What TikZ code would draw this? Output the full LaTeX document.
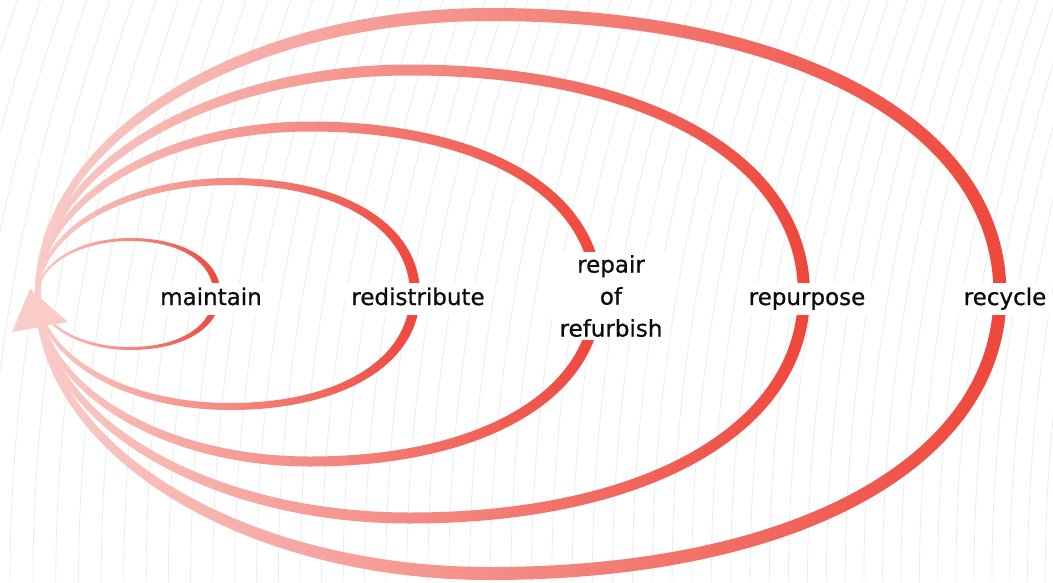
\documentclass[tikz,border=0pt]{standalone}
\usepackage{fontspec}
\setmainfont{DejaVu Sans}
\newfontfamily\labelfont{DejaVu Sans}[FakeBold=0.8]
\definecolor{loopL}{HTML}{F9CCC8}
\definecolor{loopR}{HTML}{EF463B}
\definecolor{bgline}{HTML}{ECECEC}
\definecolor{labeltext}{HTML}{0D0D0D}
\tikzset{
  looplabel/.style={fill=white, inner xsep=6pt, inner ysep=5pt, text=labeltext,
    font=\labelfont\fontsize{23}{32}\selectfont, text height=17pt, text depth=5pt},
  multilabel/.style={fill=white, inner xsep=8pt, inner ysep=3pt, text=labeltext,
    font=\labelfont\fontsize{23}{32}\selectfont, align=center},
  bandfill/.style={left color=loopL, right color=loopR, even odd rule},
  arrowtip/.style={fill=loopL},
  bgcurve/.style={draw=bgline, line width=0.8pt}
}
% #1 left x, #2 peak x, #3 right x, #4 half height, #5 width left, #6 width top, #7 width right
\newcommand\bandloop[7]{%
  \pgfmathsetmacro\lpOL{#1-#5/2}%
  \pgfmathsetmacro\lpIL{#1+#5/2}%
  \pgfmathsetmacro\lpOR{#3+#7/2}%
  \pgfmathsetmacro\lpIR{#3-#7/2}%
  \pgfmathsetmacro\lpOT{294-#4-#6/2}%
  \pgfmathsetmacro\lpIT{294-#4+#6/2}%
  \pgfmathsetmacro\lpOB{294+#4+#6/2}%
  \pgfmathsetmacro\lpIB{294+#4-#6/2}%
  \def\lpP{#2}%
  \shade[bandfill]
    (\lpOL,294) .. controls (\lpOL,{294-0.552*(294-\lpOT)}) and ({\lpP-0.552*(\lpP-\lpOL)},\lpOT) .. (\lpP,\lpOT)
    .. controls ({\lpP+0.6*(\lpOR-\lpP)},\lpOT) and (\lpOR,{294-0.6*(294-\lpOT)}) .. (\lpOR,294)
    .. controls (\lpOR,{294+0.6*(\lpOB-294)}) and ({\lpP+0.6*(\lpOR-\lpP)},\lpOB) .. (\lpP,\lpOB)
    .. controls ({\lpP-0.552*(\lpP-\lpOL)},\lpOB) and (\lpOL,{294+0.552*(\lpOB-294)}) .. (\lpOL,294) -- cycle
    (\lpIL,294) .. controls (\lpIL,{294+0.552*(\lpIB-294)}) and ({\lpP-0.552*(\lpP-\lpIL)},\lpIB) .. (\lpP,\lpIB)
    .. controls ({\lpP+0.6*(\lpIR-\lpP)},\lpIB) and (\lpIR,{294+0.6*(\lpIB-294)}) .. (\lpIR,294)
    .. controls (\lpIR,{294-0.6*(294-\lpIT)}) and ({\lpP+0.6*(\lpIR-\lpP)},\lpIT) .. (\lpP,\lpIT)
    .. controls ({\lpP-0.552*(\lpP-\lpIL)},\lpIT) and (\lpIL,{294-0.552*(294-\lpIT)}) .. (\lpIL,294) -- cycle;
}
\begin{document}
\begin{tikzpicture}[x=1pt,y=-1pt]
\useasboundingbox (0,0) rectangle (1053,582);
\fill[white] (0,0) rectangle (1053,582);
\begin{scope}
  \clip (0,0) rectangle (1053,582);
  \foreach \i in {-6,...,58} {
    \pgfmathsetmacro\bx{10+23*\i-0.053*\i*\i}
    \draw[bgcurve] (\bx,582) .. controls (\bx,388) and ({\bx+33.3},194) .. ({\bx+100},0);
  }
\end{scope}
% loops, outer to inner
\bandloop{38}{490}{1000}{279.5}{6}{13}{13}
\bandloop{38}{410}{804}{224}{5}{11}{12}
\bandloop{38}{310}{597}{167.5}{4}{10}{11}
\bandloop{38}{230}{415}{112.5}{3}{7}{10}
\bandloop{38}{130}{217}{54.5}{2}{3}{7}
% arrowhead
\fill[arrowtip] (30,289) -- (12,332) -- (68,322) -- cycle;
% labels
\node[looplabel] (maintain) at (211,299) {maintain};
\node[looplabel] (redistribute) at (418,299) {redistribute};
\node[multilabel] (repair) at (611,296) {repair\\of\\refurbish};
\node[looplabel] (repurpose) at (807,299) {repurpose};
\node[looplabel] (recycle) at (1005,299) {recycle};
\end{tikzpicture}
\end{document}
